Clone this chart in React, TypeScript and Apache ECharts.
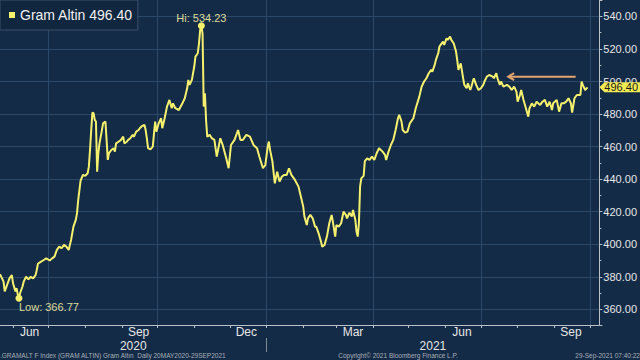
import React, { useEffect, useRef } from "react";
import * as echarts from "echarts";

const FONT = "Liberation Sans, Arial, sans-serif";
const START = "2020-05-21";
const END = "2021-10-09";
const MONTHS = ["Jan", "Feb", "Mar", "Apr", "May", "Jun", "Jul", "Aug", "Sep", "Oct", "Nov", "Dec"];
const LABEL_MONTHS = ["06", "09", "12", "03"];
const GRID_MONTHS = ["01", "04", "07", "10"];
const seriesName = "Gram Altin";
const lastValue = 496.4;
const yearLabels = ["2020", "2021"];
const yearBreak = "2021-01-01";
const arrowDates = ["2021-07-24", "2021-09-19"];
const arrowValues = [503, 503];
const footerLeft = ".GRAMALT F Index (GRAM ALTIN) Gram Altın  Daily 20MAY2020-29SEP2021";
const footerMid = "Copyright© 2021 Bloomberg Finance L.P.";
const footerRight = "29-Sep-2021 07:40:22";

const dates = [
  "2020-05-21", "2020-05-22", "2020-05-24", "2020-05-25", "2020-05-27", "2020-05-29", "2020-05-31",
  "2020-06-01", "2020-06-03", "2020-06-04", "2020-06-05", "2020-06-06", "2020-06-07", "2020-06-09", "2020-06-10",
  "2020-06-12", "2020-06-14", "2020-06-16", "2020-06-18", "2020-06-20", "2020-06-21", "2020-06-22", "2020-06-24",
  "2020-06-27", "2020-06-29",
  "2020-07-02", "2020-07-04", "2020-07-06", "2020-07-08", "2020-07-10", "2020-07-12", "2020-07-14", "2020-07-16",
  "2020-07-18", "2020-07-19", "2020-07-20", "2020-07-22", "2020-07-24", "2020-07-25", "2020-07-26", "2020-07-28",
  "2020-07-30",
  "2020-08-01", "2020-08-03", "2020-08-04", "2020-08-05", "2020-08-06", "2020-08-07", "2020-08-08", "2020-08-09",
  "2020-08-10", "2020-08-11", "2020-08-12", "2020-08-13", "2020-08-15", "2020-08-16", "2020-08-18", "2020-08-19",
  "2020-08-20", "2020-08-21", "2020-08-23", "2020-08-25", "2020-08-26", "2020-08-27", "2020-08-29", "2020-08-31",
  "2020-09-02", "2020-09-03", "2020-09-05", "2020-09-06", "2020-09-08", "2020-09-10", "2020-09-11", "2020-09-13",
  "2020-09-15", "2020-09-16", "2020-09-18", "2020-09-20", "2020-09-21", "2020-09-22", "2020-09-23", "2020-09-25",
  "2020-09-27", "2020-09-28", "2020-09-29", "2020-09-30",
  "2020-10-02", "2020-10-04", "2020-10-05", "2020-10-07", "2020-10-09", "2020-10-11", "2020-10-13", "2020-10-14",
  "2020-10-16", "2020-10-19", "2020-10-22", "2020-10-24", "2020-10-26", "2020-10-27", "2020-10-28", "2020-10-30",
  "2020-11-01", "2020-11-02", "2020-11-04", "2020-11-05", "2020-11-06", "2020-11-07", "2020-11-08", "2020-11-09",
  "2020-11-10", "2020-11-11", "2020-11-12", "2020-11-14", "2020-11-16", "2020-11-18", "2020-11-20", "2020-11-23",
  "2020-11-25", "2020-11-28", "2020-11-30",
  "2020-12-02", "2020-12-05", "2020-12-08", "2020-12-10", "2020-12-12", "2020-12-15", "2020-12-18", "2020-12-21",
  "2020-12-24", "2020-12-26", "2020-12-29", "2020-12-31",
  "2021-01-02", "2021-01-03", "2021-01-04", "2021-01-06", "2021-01-08", "2021-01-10", "2021-01-12", "2021-01-14",
  "2021-01-16", "2021-01-18", "2021-01-20", "2021-01-22", "2021-01-25", "2021-01-28", "2021-01-30",
  "2021-02-01", "2021-02-02", "2021-02-04", "2021-02-05", "2021-02-07", "2021-02-09", "2021-02-11", "2021-02-12",
  "2021-02-14", "2021-02-16", "2021-02-17", "2021-02-19", "2021-02-21", "2021-02-23", "2021-02-25", "2021-02-26",
  "2021-02-28",
  "2021-03-01", "2021-03-03", "2021-03-05", "2021-03-07", "2021-03-09", "2021-03-10", "2021-03-12", "2021-03-14",
  "2021-03-15", "2021-03-17", "2021-03-18", "2021-03-19", "2021-03-20", "2021-03-21", "2021-03-22", "2021-03-24",
  "2021-03-25", "2021-03-27", "2021-03-29", "2021-03-31",
  "2021-04-02", "2021-04-04", "2021-04-06", "2021-04-09", "2021-04-11", "2021-04-12", "2021-04-14", "2021-04-16",
  "2021-04-18", "2021-04-20", "2021-04-22", "2021-04-23", "2021-04-25", "2021-04-26", "2021-04-28", "2021-04-30",
  "2021-05-02", "2021-05-05", "2021-05-07", "2021-05-10", "2021-05-12", "2021-05-14", "2021-05-16", "2021-05-18",
  "2021-05-20", "2021-05-21", "2021-05-23", "2021-05-24", "2021-05-26", "2021-05-27", "2021-05-28", "2021-05-30",
  "2021-05-31",
  "2021-06-02", "2021-06-03", "2021-06-05", "2021-06-06", "2021-06-08", "2021-06-10", "2021-06-11", "2021-06-12",
  "2021-06-13", "2021-06-14", "2021-06-16", "2021-06-17", "2021-06-19", "2021-06-20", "2021-06-22", "2021-06-23",
  "2021-06-25", "2021-06-27", "2021-06-29",
  "2021-07-01", "2021-07-03", "2021-07-04", "2021-07-06", "2021-07-08", "2021-07-11", "2021-07-12", "2021-07-14",
  "2021-07-15", "2021-07-17", "2021-07-18", "2021-07-20", "2021-07-23", "2021-07-25", "2021-07-27", "2021-07-29",
  "2021-07-31",
  "2021-08-01", "2021-08-03", "2021-08-04", "2021-08-06", "2021-08-08", "2021-08-10", "2021-08-11", "2021-08-13",
  "2021-08-15", "2021-08-17", "2021-08-20", "2021-08-22", "2021-08-24", "2021-08-26", "2021-08-28", "2021-08-30",
  "2021-08-31",
  "2021-09-03", "2021-09-05", "2021-09-07", "2021-09-09", "2021-09-11", "2021-09-13", "2021-09-15", "2021-09-16",
  "2021-09-18", "2021-09-20", "2021-09-23", "2021-09-24", "2021-09-25", "2021-09-27", "2021-09-29",
];

const values = [
  381.5, 380.1, 377.0, 371.0, 375.0, 379.0, 381.0,
  376.0, 371.0, 373.0, 369.0, 366.77, 370.0, 374.0, 377.0,
  380.0, 378.5, 380.0, 379.0, 381.0, 384.0, 388.0, 389.0,
  390.3, 391.3,
  390.0, 391.3, 392.4, 396.5, 398.5, 397.5, 399.6, 398.5,
  396.5, 399.6, 402.6, 410.8, 415.0, 419.0, 427.0, 439.0,
  442.6,
  442.0, 443.6, 447.5, 458.0, 470.0, 480.9, 480.5, 476.4,
  475.4, 444.6, 456.0, 462.0, 470.0, 474.3, 475.4, 464.0,
  451.8, 456.0, 457.9, 459.0, 456.9, 462.0, 463.0, 464.0,
  466.1, 462.0, 463.0, 464.0, 465.1, 467.2, 466.0, 469.2,
  470.2, 471.3, 472.7, 473.3, 470.0, 465.1, 459.0, 458.3,
  460.0, 468.0, 475.4, 469.2,
  474.3, 477.4, 471.3, 477.4, 484.6, 488.7, 483.6, 486.6,
  483.6, 482.5, 486.6, 489.7, 495.8, 501.0, 497.9, 501.0,
  509.2, 515.3, 517.4, 523.5, 531.7, 534.23, 529.6, 484.6,
  492.8, 476.0, 466.0, 467.2, 465.0, 464.1, 453.8, 465.1,
  461.0, 452.8, 446.7,
  461.0, 464.1, 470.2, 464.1, 464.1, 467.2, 466.1, 461.0,
  459.0, 453.8, 446.7, 448.7,
  460.0, 463.1, 458.0, 450.8, 437.4, 444.6, 438.5, 441.6,
  442.6, 442.6, 446.7, 442.6, 439.5, 435.4, 429.3,
  423.1, 417.0, 411.8, 415.9, 418.0, 415.9, 410.8, 410.8,
  406.7, 401.6, 398.5, 399.6, 404.7, 412.9, 418.0, 413.9,
  404.7,
  411.8, 410.8, 412.9, 420.0, 418.0, 415.9, 419.4, 417.0,
  421.1, 414.9, 407.7, 404.7, 412.9, 435.4, 440.5, 442.0,
  451.0, 452.8, 451.8, 453.8,
  451.8, 455.9, 459.0, 456.9, 454.9, 451.8, 456.9, 461.0,
  464.1, 470.2, 477.4, 479.5, 475.4, 470.2, 468.6, 469.2,
  474.3, 477.4, 483.6, 490.7, 496.9, 500.0, 502.0, 505.1,
  507.1, 506.1, 510.2, 513.3, 517.4, 521.5, 522.5, 524.5,
  522.5,
  526.6, 525.6, 527.6, 525.6, 523.5, 518.4, 513.3, 507.1,
  509.2, 511.2, 502.0, 497.9, 495.9, 498.9, 494.8, 496.9,
  502.0, 497.9, 494.8,
  495.9, 497.9, 500.0, 503.0, 504.0, 503.0, 502.0, 505.1,
  502.0, 497.9, 500.0, 496.9, 497.9, 496.9, 494.8, 496.9,
  493.8,
  487.6, 491.7, 494.8, 488.7, 483.6, 478.4, 483.6, 486.6,
  484.6, 487.6, 485.6, 487.6, 488.7, 484.6, 487.6, 482.5,
  486.6,
  488.7, 481.5, 486.6, 486.6, 487.6, 489.7, 486.6, 480.9,
  489.7, 491.7, 491.7, 500.0, 497.9, 494.8, 496.4,
];

const COLORS = {
  bg: "#142b47",
  grid: "#2c4868",
  line: "#f4f06e",
  axis: "#b9c0c8",
  label: "#e6e6e6",
  hilo: "#dcdc98",
  arrow: "#e3a46e",
  tag: "#f2ea55",
  footer: "#a8aeb6",
};

function buildCategories(): string[] {
  const out: string[] = [];
  const s = Date.parse(START + "T00:00:00Z");
  const e = Date.parse(END + "T00:00:00Z");
  for (let t = s; t <= e; t += 86400000) {
    out.push(new Date(t).toISOString().slice(0, 10));
  }
  return out;
}

export default function App() {
  const ref = useRef<HTMLDivElement>(null);

  useEffect(() => {
    if (!ref.current) return;
    const chart = echarts.init(ref.current, null, { renderer: "svg" });
    const categories = buildCategories();
    const lineData = dates.map((d, i) => [d, values[i]]);
    const arrowData = arrowDates.map((d, i) => [d, arrowValues[i]]);

    chart.setOption({
      animation: false,
      backgroundColor: COLORS.bg,
      textStyle: { fontFamily: FONT },
      grid: { left: 0, right: 40, top: 0, bottom: 35, containLabel: false },
      legend: {
        data: [seriesName],
        left: 0,
        top: 0,
        icon: "rect",
        itemWidth: 6,
        itemHeight: 6,
        padding: [8, 5, 8, 9],
        backgroundColor: "#11263f",
        borderColor: "#3b5069",
        borderWidth: 1,
        formatter: (n: string) => n + " " + lastValue.toFixed(2),
        textStyle: { color: "#f0f0f0", fontSize: 14, fontFamily: FONT },
        itemStyle: { color: COLORS.line },
      },
      xAxis: {
        type: "category",
        data: categories,
        boundaryGap: false,
        axisLine: { show: true, lineStyle: { color: COLORS.axis, width: 1 } },
        axisTick: {
          show: true,
          length: 3,
          interval: (_i: number, v: string) => v.endsWith("-01"),
          lineStyle: { color: COLORS.axis },
        },
        axisLabel: {
          interval: (_i: number, v: string) => v.endsWith("-15") && LABEL_MONTHS.includes(v.slice(5, 7)),
          formatter: (v: string) => MONTHS[parseInt(v.slice(5, 7), 10) - 1],
          color: COLORS.label,
          fontSize: 12,
          lineHeight: 10,
          margin: 2,
          fontFamily: FONT,
        },
        splitLine: {
          show: true,
          interval: (_i: number, v: string) => v.endsWith("-01") && GRID_MONTHS.includes(v.slice(5, 7)),
          lineStyle: { color: COLORS.grid, width: 1 },
        },
      },
      yAxis: {
        type: "value",
        position: "right",
        min: 350.35,
        max: 550.1,
        splitNumber: 10,
        axisLine: { show: true, lineStyle: { color: COLORS.axis, width: 1 } },
        axisTick: { show: true, length: 3, lineStyle: { color: COLORS.axis } },
        minorTick: { show: true, splitNumber: 2, length: 2, lineStyle: { color: COLORS.axis } },
        axisLabel: {
          color: COLORS.label,
          fontSize: 11,
          margin: 4,
          fontFamily: FONT,
          showMinLabel: false,
          showMaxLabel: false,
          formatter: (v: number) => v.toFixed(2),
        },
        splitLine: {
          show: true,
          showMinLine: false,
          showMaxLine: false,
          lineStyle: { color: COLORS.grid, width: 1 },
        },
      },
      series: [
        {
          name: seriesName,
          type: "line",
          data: lineData,
          showSymbol: false,
          symbol: "none",
          lineStyle: { color: COLORS.line, width: 2 },
          itemStyle: { color: COLORS.line },
          z: 5,
          markPoint: {
            symbol: "circle",
            symbolSize: 7,
            itemStyle: { color: COLORS.line },
            label: { show: true, color: COLORS.hilo, fontSize: 11, fontFamily: FONT },
            data: [
              {
                type: "max",
                name: "Hi",
                label: {
                  position: "inside",
                  offset: [0, -8],
                  formatter: (p: any) => "Hi: " + Number(p.value).toFixed(2),
                },
              },
              {
                type: "min",
                name: "Low",
                label: {
                  position: "inside",
                  align: "left",
                  offset: [0, 9],
                  formatter: (p: any) => "Low: " + Number(p.value).toFixed(2),
                },
              },
            ],
          },
        },
        {
          name: "arrow",
          type: "line",
          data: arrowData,
          symbol: "none",
          silent: true,
          lineStyle: { color: COLORS.arrow, width: 2 },
          z: 6,
        },
      ],
    });

    const yTag = chart.convertToPixel({ yAxisIndex: 0 }, lastValue) as number;
    const xBreak = chart.convertToPixel({ xAxisIndex: 0 }, categories.indexOf(yearBreak)) as number;
    const xLeft = chart.convertToPixel({ xAxisIndex: 0 }, 0) as number;
    const xRight = chart.convertToPixel({ xAxisIndex: 0 }, categories.length - 1) as number;
    const xA = chart.convertToPixel({ xAxisIndex: 0 }, categories.indexOf(arrowDates[0])) as number;
    const yA = chart.convertToPixel({ yAxisIndex: 0 }, arrowValues[0]) as number;

    chart.setOption({
      graphic: [
        {
          type: "polygon",
          z: 100,
          shape: {
            points: [
              [xRight, yTag],
              [xRight + 5, yTag - 5],
              [640, yTag - 5],
              [640, yTag + 5],
              [xRight + 5, yTag + 5],
            ],
          },
          style: { fill: COLORS.tag },
        },
        {
          type: "text",
          z: 101,
          x: xRight + 5,
          y: yTag,
          style: {
            text: lastValue.toFixed(2),
            fill: "#1b1b1b",
            font: `11px ${FONT}`,
            verticalAlign: "middle",
            lineHeight: 10,
          },
        },
        {
          type: "polyline",
          z: 100,
          shape: { points: [[xA + 6, yA - 3.5], [xA, yA], [xA + 6, yA + 3.5]] },
          style: { stroke: COLORS.arrow, lineWidth: 2, fill: "none" },
        },
        {
          type: "line",
          z: 100,
          shape: { x1: xBreak, y1: 338, x2: xBreak, y2: 352 },
          style: { stroke: "#7f8c9a", lineWidth: 1 },
        },
        {
          type: "text",
          z: 100,
          x: (xLeft + xBreak) / 2,
          y: 346,
          style: {
            text: yearLabels[0],
            fill: COLORS.label,
            font: `12px ${FONT}`,
            align: "center",
            verticalAlign: "middle",
            lineHeight: 10,
          },
        },
        {
          type: "text",
          z: 100,
          x: (xBreak + xRight) / 2,
          y: 346,
          style: {
            text: yearLabels[1],
            fill: COLORS.label,
            font: `12px ${FONT}`,
            align: "center",
            verticalAlign: "middle",
            lineHeight: 10,
          },
        },
        {
          type: "text",
          z: 100,
          x: 0,
          y: 355.5,
          style: { text: footerLeft, fill: COLORS.footer, font: `6.5px ${FONT}`, align: "left", verticalAlign: "middle" },
        },
        {
          type: "text",
          z: 100,
          x: 398,
          y: 355.5,
          style: { text: footerMid, fill: COLORS.footer, font: `6.5px ${FONT}`, align: "center", verticalAlign: "middle" },
        },
        {
          type: "text",
          z: 100,
          x: 640,
          y: 355.5,
          style: { text: footerRight, fill: COLORS.footer, font: `6.5px ${FONT}`, align: "right", verticalAlign: "middle" },
        },
      ],
    });

    return () => chart.dispose();
  }, []);

  return (
    <div
      ref={ref}
      style={{ position: "fixed", left: 0, top: 0, width: 640, height: 360 }}
    />
  );
}
